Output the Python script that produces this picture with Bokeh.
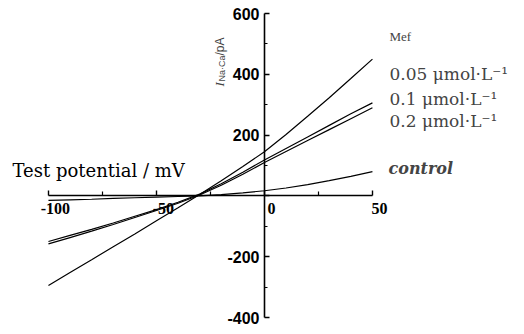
import math
from bokeh.plotting import figure
from bokeh.models import Range1d, LinearAxis, FixedTicker, Label
from bokeh.embed import file_html
from bokeh.resources import INLINE

# ---- data ----
potential_mV = [-100, -90, -80, -70, -60, -50, -40, -30, -20, -10, 0, 10, 20, 30, 40, 50]
mef_005 = [-295, -252, -210, -167, -125, -82, -39, 5, 50, 97, 145, 202, 262, 323, 386, 450]
mef_01 = [-150, -130, -110, -89, -67, -45, -21, 6, 40, 78, 118, 156, 194, 232, 270, 306]
mef_02 = [-158, -137, -116, -94, -71, -48, -24, 3, 35, 71, 110, 146, 182, 218, 254, 290]
control = [-15, -13, -11, -8, -6, -4, -2, 0, 4, 10, 17, 26, 37, 50, 64, 80]

x_ticks = [-100, -50, 0, 50]
x_tick_labels = ["-100", "-50", "0", "50"]
x_minor = [-75, -25, 25]
y_ticks = [-400, -200, 0, 200, 400, 600]
y_tick_labels = ["-400", "-200", "", "200", "400", "600"]
y_minor = [-300, -100, 100, 300, 500]

series_labels = ["0.05 μmol·L⁻¹", "0.1 μmol·L⁻¹", "0.2 μmol·L⁻¹"]

W, H = 524, 334
p = figure(width=W, height=H, output_backend="svg", toolbar_location=None,
           x_range=Range1d(-122.2, 120.4), y_range=Range1d(-455.9, 642.8),
           x_axis_location=None, y_axis_location=None, min_border=0)
p.outline_line_color = None
p.xgrid.visible = False
p.ygrid.visible = False
p.background_fill_color = "white"
p.border_fill_color = "white"

for ys in (mef_005, mef_01, mef_02, control):
    p.line(potential_mV, ys, line_color="black", line_width=1.2)

xa = LinearAxis(fixed_location=0, bounds=(-100, 50),
                ticker=FixedTicker(ticks=x_ticks, minor_ticks=x_minor))
xa.axis_line_width = 1.6
xa.major_tick_in = 5
xa.major_tick_out = 0
xa.minor_tick_in = 4
xa.minor_tick_out = 0
xa.major_tick_line_width = 1.4
xa.minor_tick_line_width = 1.2
xa.major_label_overrides = {t: "" for t in x_ticks}
p.add_layout(xa, "below")

# x tick labels drawn as text (slightly right of the ticks, as in the original)
p.text(x=x_ticks, y=[0] * len(x_ticks), text=x_tick_labels, x_offset=7, y_offset=7,
       text_align="center", text_baseline="top", text_font="Liberation Sans",
       text_font_style="bold", text_font_size="16px", text_color="black")

ya = LinearAxis(fixed_location=0, bounds=(-400, 600),
                ticker=FixedTicker(ticks=y_ticks, minor_ticks=y_minor))
ya.axis_line_width = 1.6
ya.major_tick_in = 5
ya.major_tick_out = 0
ya.minor_tick_in = 3
ya.minor_tick_out = 0
ya.major_tick_line_width = 1.4
ya.minor_tick_line_width = 1.2
ya.major_label_standoff = 5
ya.major_label_text_font = "Liberation Sans"
ya.major_label_text_font_style = "bold"
ya.major_label_text_font_size = "16px"
ya.major_label_text_color = "black"
ya.major_label_overrides = dict(zip(y_ticks, y_tick_labels))
p.add_layout(ya, "left")

def sy(page_y):
    return H - page_y

# x-axis title
p.add_layout(Label(x=12, y=sy(170), x_units="screen", y_units="screen",
                   text="Test potential / mV", text_font="DejaVu Serif",
                   text_font_size="18px", text_baseline="middle", text_align="left",
                   text_color="black"))

# y-axis title (rotated, in pieces)
ang = math.pi / 2
bx = 219
p.add_layout(Label(x=bx, y=sy(86), x_units="screen", y_units="screen", angle=ang,
                   text="I", text_font="Liberation Serif", text_font_style="italic",
                   text_font_size="13px", text_baseline="alphabetic", text_align="left"))
p.add_layout(Label(x=bx + 2, y=sy(81), x_units="screen", y_units="screen", angle=ang,
                   text="Na·Ca", text_font="Liberation Sans",
                   text_font_size="9px", text_baseline="alphabetic", text_align="left"))
p.add_layout(Label(x=bx, y=sy(55), x_units="screen", y_units="screen", angle=ang,
                   text=" /pA", text_font="Liberation Sans",
                   text_font_size="12px", text_baseline="alphabetic", text_align="left"))

# right-hand labels
p.add_layout(Label(x=389, y=sy(36), x_units="screen", y_units="screen",
                   text="Mef", text_font="Liberation Serif", text_font_size="13px",
                   text_baseline="middle", text_align="left"))
for lab, py in zip(series_labels, [73, 98, 120]):
    p.add_layout(Label(x=389, y=sy(py), x_units="screen", y_units="screen",
                       text=lab, text_font="DejaVu Serif", text_font_size="17px",
                       text_baseline="middle", text_align="left"))
p.add_layout(Label(x=388, y=sy(168), x_units="screen", y_units="screen",
                   text="control", text_font="DejaVu Serif", text_font_style="bold italic",
                   text_font_size="16px", text_baseline="middle", text_align="left"))

open("out.html", "w").write(file_html(p, INLINE))
